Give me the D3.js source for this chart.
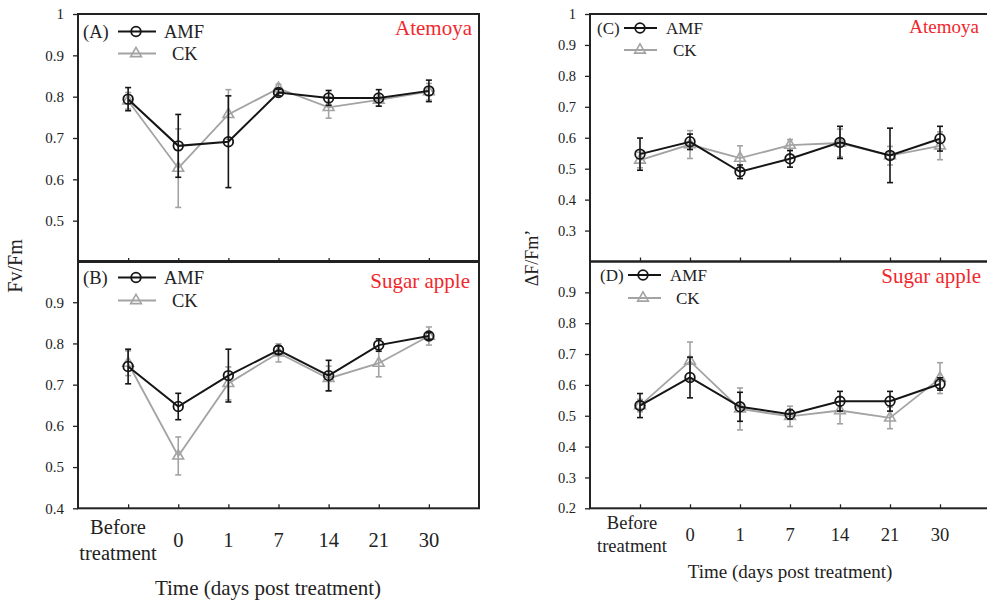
<!DOCTYPE html>
<html><head><meta charset="utf-8">
<script src="https://cdn.jsdelivr.net/npm/d3@7"></script>
<style>
html,body{margin:0;padding:0;background:#fff;}
svg{display:block;font-family:"Liberation Serif","Times New Roman",serif;}
</style></head>
<body>
<svg id="chart" width="987" height="602"></svg>
<script>
const categories = ["Before treatment","0","1","7","14","21","30"];
const seriesNames = ["AMF","CK"];

// Fv/Fm, Atemoya (A)
const fvfmAtemoyaAMF    = [0.794,0.681,0.691,0.810,0.797,0.797,0.814];
const fvfmAtemoyaAMFErr = [0.028,0.076,0.111,0.008,0.018,0.020,0.026];
const fvfmAtemoyaCK     = [0.790,0.627,0.757,0.820,0.774,0.792,0.812];
const fvfmAtemoyaCKErr  = [0.020,0.095,0.060,0.010,0.026,0.015,0.020];
// Fv/Fm, Sugar apple (B)
const fvfmSugarAMF    = [0.744,0.647,0.722,0.784,0.722,0.796,0.818];
const fvfmSugarAMFErr = [0.042,0.032,0.064,0.010,0.037,0.015,0.008];
const fvfmSugarCK     = [0.752,0.527,0.703,0.777,0.715,0.752,0.818];
const fvfmSugarCKErr  = [0.030,0.046,0.040,0.022,0.030,0.033,0.022];
// ΔF/Fm', Atemoya (C)
const phiAtemoyaAMF    = [0.547,0.587,0.490,0.532,0.585,0.543,0.597];
const phiAtemoyaAMFErr = [0.052,0.025,0.022,0.027,0.052,0.088,0.040];
const phiAtemoyaCK     = [0.528,0.578,0.534,0.576,0.583,0.542,0.574];
const phiAtemoyaCKErr  = [0.025,0.045,0.040,0.018,0.045,0.030,0.045];
// ΔF/Fm', Sugar apple (D)
const phiSugarAMF    = [0.533,0.624,0.529,0.505,0.547,0.547,0.603];
const phiSugarAMFErr = [0.039,0.066,0.047,0.015,0.032,0.032,0.020];
const phiSugarCK     = [0.533,0.677,0.522,0.498,0.517,0.493,0.622];
const phiSugarCKErr  = [0.020,0.062,0.068,0.033,0.043,0.035,0.050];

const leftTicksA = [0.5,0.6,0.7,0.8,0.9,1];
const leftTicksB = [0.4,0.5,0.6,0.7,0.8,0.9];
const rightTicksC = [0.3,0.4,0.5,0.6,0.7,0.8,0.9,1];
const rightTicksD = [0.2,0.3,0.4,0.5,0.6,0.7,0.8,0.9];

const AMF_COLOR = "#151515", CK_COLOR = "#a3a3a3", RED = "#f0282d", FRAME = "#222";
const svg = d3.select("#chart");

const panels = [
  {label:"(A)", species:"Atemoya", amf:fvfmAtemoyaAMF, amfErr:fvfmAtemoyaAMFErr, ck:fvfmAtemoyaCK, ckErr:fvfmAtemoyaCKErr,
   x0:78, x1:479, top:14, bottom:262, domain:[0.4,1], ticks:leftTicksA, labelX:83, legY:31.5, legCx:136, legL:118, legR:156, txtX:164, ckTxtX:172, lfs:18.5,
   spX:472, spY:35, spFs:21, tickFs:15, xlabels:false},
  {label:"(B)", species:"Sugar apple", amf:fvfmSugarAMF, amfErr:fvfmSugarAMFErr, ck:fvfmSugarCK, ckErr:fvfmSugarCKErr,
   x0:78, x1:479, top:261, bottom:508.3, domain:[0.4,1], ticks:leftTicksB, labelX:83, legY:277.5, legCx:136, legL:118, legR:156, txtX:164, ckTxtX:172, lfs:18.5,
   spX:470, spY:288, spFs:21, tickFs:15, xlabels:true, xfs:20.5, numY:547, befY:534, treY:559.5, befX:118, titleY:595, titleX:268, titleFs:21},
  {label:"(C)", species:"Atemoya", amf:phiAtemoyaAMF, amfErr:phiAtemoyaAMFErr, ck:phiAtemoyaCK, ckErr:phiAtemoyaCKErr,
   x0:590, x1:990, top:14, bottom:261.5, domain:[0.2,1], ticks:rightTicksC, labelX:597, legY:28, legCx:640, legL:624, legR:657, txtX:666, ckTxtX:673, lfs:17,
   spX:979, spY:33, spFs:19, tickFs:14.5, xlabels:false},
  {label:"(D)", species:"Sugar apple", amf:phiSugarAMF, amfErr:phiSugarAMFErr, ck:phiSugarCK, ckErr:phiSugarCKErr,
   x0:590, x1:990, top:261.5, bottom:508.3, domain:[0.2,1], ticks:rightTicksD, labelX:600, legY:275, legCx:643, legL:628, legR:661, txtX:670, ckTxtX:676, lfs:17,
   spX:981, spY:283, spFs:21, tickFs:14.5, xlabels:true, xfs:18.5, numY:541, befY:529, treY:552, befX:632, titleY:578, titleX:790, titleFs:19}
];

const triangle = d3.symbol().type(d3.symbolTriangle).size(50);

panels.forEach(p => {
  const x = d3.scaleLinear().domain([-1, 7]).range([p.x0, p.x1]);
  const y = d3.scaleLinear().domain(p.domain).range([p.bottom, p.top]);
  const g = svg.append("g");

  const yAxis = d3.axisLeft(y).tickValues(p.ticks).tickSize(5).tickPadding(9)
    .tickFormat(d => d === 1 ? "1" : d3.format(".1f")(d));
  const ya = g.append("g").attr("transform", `translate(${p.x0},0)`).call(yAxis);
  ya.select(".domain").remove();
  ya.selectAll("line").attr("stroke", FRAME).attr("stroke-width", 1.3);
  ya.selectAll("text").attr("font-size", p.tickFs).attr("fill", "#222")
    .attr("font-family", "Liberation Serif, serif");

  const xAxis = d3.axisBottom(x).tickValues(d3.range(categories.length)).tickSize(-4).tickFormat("");
  const xa = g.append("g").attr("transform", `translate(0,${p.bottom})`).call(xAxis);
  xa.select(".domain").remove();
  xa.selectAll("line").attr("stroke", FRAME).attr("stroke-width", 1.3);

  g.append("rect").attr("x", p.x0).attr("y", p.top).attr("width", p.x1 - p.x0).attr("height", p.bottom - p.top)
    .attr("fill", "none").attr("stroke", FRAME).attr("stroke-width", 2);

  const drawSeries = (vals, errs, color, marker, lw) => {
    const idx = d3.range(vals.length);
    const eg = g.append("g").attr("stroke", color).attr("stroke-width", 1.6);
    idx.forEach(i => {
      const cx = x(i), yt = y(vals[i] + errs[i]), yb = y(vals[i] - errs[i]);
      eg.append("line").attr("x1", cx).attr("x2", cx).attr("y1", yt).attr("y2", yb);
      eg.append("line").attr("x1", cx - 3).attr("x2", cx + 3).attr("y1", yt).attr("y2", yt);
      eg.append("line").attr("x1", cx - 3).attr("x2", cx + 3).attr("y1", yb).attr("y2", yb);
    });
    const line = d3.line().x(i => x(i)).y(i => y(vals[i]));
    g.append("path").datum(idx).attr("d", line).attr("fill", "none")
      .attr("stroke", color).attr("stroke-width", lw);
    idx.forEach(i => {
      if (marker === "circle") {
        g.append("circle").attr("cx", x(i)).attr("cy", y(vals[i])).attr("r", 4.8)
          .attr("fill", "none").attr("stroke", color).attr("stroke-width", 1.8);
      } else {
        g.append("path").attr("d", triangle).attr("transform", `translate(${x(i)},${y(vals[i])})`)
          .attr("fill", "none").attr("stroke", color).attr("stroke-width", 1.6);
      }
    });
  };
  drawSeries(p.ck, p.ckErr, CK_COLOR, "triangle", 1.8);
  drawSeries(p.amf, p.amfErr, AMF_COLOR, "circle", 2);

  g.append("text").attr("x", p.labelX).attr("y", p.legY + 6).attr("font-size", p.lfs).attr("fill", "#222").text(p.label);
  g.append("line").attr("x1", p.legL).attr("x2", p.legR).attr("y1", p.legY).attr("y2", p.legY)
    .attr("stroke", AMF_COLOR).attr("stroke-width", 2);
  g.append("circle").attr("cx", p.legCx).attr("cy", p.legY).attr("r", 4.8)
    .attr("fill", "none").attr("stroke", AMF_COLOR).attr("stroke-width", 1.8);
  g.append("text").attr("x", p.txtX).attr("y", p.legY + 6).attr("font-size", p.lfs).attr("fill", "#222").text(seriesNames[0]);
  const ckY = p.legY + (p.top < 20 ? 22 : 23);
  g.append("line").attr("x1", p.legL).attr("x2", p.legR).attr("y1", ckY).attr("y2", ckY)
    .attr("stroke", CK_COLOR).attr("stroke-width", 2);
  g.append("path").attr("d", triangle).attr("transform", `translate(${p.legCx},${ckY})`)
    .attr("fill", "none").attr("stroke", CK_COLOR).attr("stroke-width", 1.6);
  g.append("text").attr("x", p.ckTxtX).attr("y", ckY + 6).attr("font-size", p.lfs).attr("fill", "#222").text(seriesNames[1]);

  g.append("text").attr("x", p.spX).attr("y", p.spY).attr("text-anchor", "end")
    .attr("font-size", p.spFs).attr("fill", RED).text(p.species);

  if (p.xlabels) {
    categories.forEach((c, i) => {
      if (i === 0) {
        const parts = c.split(" ");
        g.append("text").attr("x", p.befX).attr("y", p.befY).attr("text-anchor", "middle")
          .attr("font-size", p.xfs).attr("fill", "#222").text(parts[0]);
        g.append("text").attr("x", p.befX).attr("y", p.treY).attr("text-anchor", "middle")
          .attr("font-size", p.xfs).attr("fill", "#222").text(parts[1]);
      } else {
        g.append("text").attr("x", x(i)).attr("y", p.numY).attr("text-anchor", "middle")
          .attr("font-size", p.xfs).attr("fill", "#222").text(c);
      }
    });
    g.append("text").attr("x", p.titleX).attr("y", p.titleY).attr("text-anchor", "middle")
      .attr("font-size", p.titleFs).attr("fill", "#222").text("Time (days post treatment)");
  }
});

svg.append("text").attr("transform", "translate(22,266) rotate(-90)").attr("text-anchor", "middle")
  .attr("font-size", 20).attr("fill", "#222").text("Fv/Fm");
svg.append("text").attr("transform", "translate(538,258) rotate(-90)").attr("text-anchor", "middle")
  .attr("font-size", 18).attr("fill", "#222").text("ΔF/Fm’");
</script>
</body></html>
